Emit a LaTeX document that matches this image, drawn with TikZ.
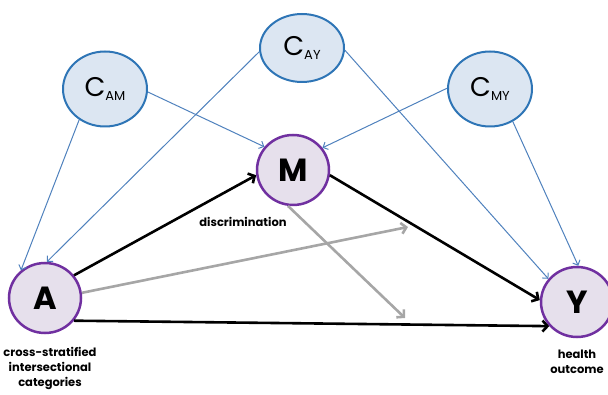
\documentclass[tikz,border=0pt]{standalone}
\usepackage{fontspec}
\setmainfont{Poppins}
\usetikzlibrary{arrows.meta,shapes.geometric}
\definecolor{confline}{HTML}{2E75B6}
\definecolor{conffill}{HTML}{DCE6F2}
\definecolor{varline}{HTML}{7030A0}
\definecolor{varfill}{HTML}{E6E0EC}
\definecolor{bluearr}{HTML}{4F81BD}
\definecolor{grayarr}{HTML}{A6A6A6}
\newcommand{\conf}[1]{{\fontsize{27}{27}\selectfont C}\raisebox{-4pt}{\fontsize{13}{13}\selectfont #1}}
\begin{document}
\begin{tikzpicture}[x=1pt, y=-1pt,
    conf/.style = {draw=confline, fill=conffill, line width=2pt, ellipse, minimum width=84pt, minimum height=75pt, inner sep=0pt},
    var/.style = {draw=varline, fill=varfill, line width=2.5pt, ellipse, minimum width=72pt, minimum height=70pt, inner sep=0pt, font=\fontsize{32}{32}\selectfont\bfseries},
    lab/.style = {align=center, font=\fontsize{11.5}{15}\selectfont\bfseries},
    blue/.style = {draw=bluearr, line width=1pt, -{Straight Barb[length=4pt,width=8pt]}},
    main/.style = {draw=black, line width=2.6pt, -{Straight Barb[length=5pt,width=11pt]}},
    grey/.style = {draw=grayarr, line width=2.6pt, -{Straight Barb[length=5pt,width=11pt]}}]
    \useasboundingbox (0,0) rectangle (608,395);
    \node[conf] (CAM) at (105,89) {\conf{AM}};
    \node[conf, minimum height=68pt] (CAY) at (302,48) {\conf{AY}};
    \node[conf] (CMY) at (490,89) {\conf{MY}};
    \node[var] (M) at (293,170) {M};
    \node[var] (A) at (45,298) {A};
    \node[var] (Y) at (577,302) {Y};
    \node[lab] (dlab) at (243,222) {discrimination};
    \node[lab] (alab) at (50,368) {cross-stratified\\intersectional\\categories};
    \node[lab] (ylab) at (577,362) {health\\outcome};
    \coordinate (g1) at (408,227);
    \coordinate (g2) at (405,318);

    % confounders
    \draw[blue] (CAM.-130) -- (A.131);
    \draw[blue] (CAM.-4) -- (M.141);
    \draw[blue] (CAY.185) -- (A.87);
    \draw[blue] (CAY.-3) -- (Y.141);
    \draw[blue] (CMY.179) -- (M.37);
    \draw[blue] (CMY.-55) -- (Y.88);

    % effect modification
    \draw[grey] (A.8) -- (g1);
    \draw[grey] (M.-98) -- (g2);

    \draw[main] (A.38) -- (M.188);
    \draw[main] (M.-8) -- (Y.177);
    \draw[main] (A.-38) -- (Y.-139);
\end{tikzpicture}
\end{document}
